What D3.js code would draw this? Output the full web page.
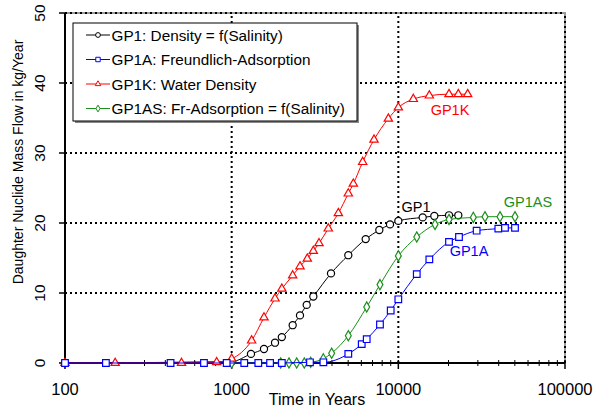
<!DOCTYPE html>
<html>
<head>
<meta charset="utf-8">
<script src="https://cdn.jsdelivr.net/npm/d3@7"></script>
<style>
  body { margin: 0; background: #fff; }
  svg { font-family: Arial, "Liberation Sans", sans-serif; }
</style>
</head>
<body>
<div id="chart"></div>
<script>
var width = 602,
    height = 408;

var margin = { top: 13, right: 37, bottom: 45, left: 65 };

// GP1: Density = f(Salinity)
var gp1Years = [100, 1000, 1306, 1563, 1820, 2000, 2323, 2570, 2820, 3090, 3945, 5010, 6370, 7690, 8913, 10000, 14000, 16440, 20140, 22900];
var gp1Flow  = [0, 0.2, 1.3, 2.0, 2.9, 3.7, 5.4, 6.8, 8.3, 9.5, 12.8, 15.4, 17.7, 19.0, 19.8, 20.3, 20.8, 21.0, 21.1, 21.1];

// GP1A: Freundlich-Adsorption
var gp1aYears = [100, 176, 430, 682, 933, 1190, 1445, 1700, 2000, 2950, 3550, 5010, 6030, 6460, 7760, 9000, 10000, 12900, 15350, 20140, 23120, 29500, 39800, 43650, 50120];
var gp1aFlow  = [0, 0, 0, 0, 0, 0, 0, 0, 0, 0.1, 0.1, 1.3, 2.7, 3.4, 5.5, 7.5, 9.1, 12.7, 14.8, 17.3, 18.0, 18.9, 19.2, 19.3, 19.3];

// GP1K: Water Density
var gp1kYears = [100, 200, 500, 813, 1000, 1318, 1563, 1820, 2000, 2323, 2570, 2843, 3090, 3342, 3800, 4365, 5010, 5370, 6110, 7145, 8710, 10000, 12300, 15350, 20140, 22900, 26060];
var gp1kFlow  = [0, 0, 0, 0.1, 0.6, 3.2, 6.5, 9.2, 10.6, 12.5, 13.8, 14.9, 16.0, 17.1, 19.2, 21.4, 24.2, 25.6, 28.7, 31.9, 34.9, 36.5, 37.7, 38.2, 38.4, 38.4, 38.4];

// GP1AS: Fr-Adsorption = f(Salinity)
var gp1asYears = [1000, 1968, 2208, 2455, 2727, 2980, 3548, 3980, 5010, 6460, 7760, 10000, 12900, 16600, 20140, 28180, 33110, 40740, 50120];
var gp1asFlow  = [0, 0, 0, 0, 0, 0.1, 0.6, 1.4, 3.9, 8.0, 11.2, 15.3, 18.0, 19.8, 20.5, 20.8, 20.9, 20.9, 20.9];

var xTicks = [100, 1000, 10000, 100000];
var yTicks = [0, 10, 20, 30, 40, 50];

var legendNames = ["GP1: Density = f(Salinity)", "GP1A: Freundlich-Adsorption", "GP1K: Water Density", "GP1AS: Fr-Adsorption = f(Salinity)"];
var curveLabels = ["GP1", "GP1A", "GP1K", "GP1AS"];

var series = [
  { years: gp1Years,   flow: gp1Flow,   color: "#000000", symbol: d3.symbolCircle,   size: 40, label: [416, 212] },
  { years: gp1aYears,  flow: gp1aFlow,  color: "#0000ff", symbol: d3.symbolSquare,   size: 44, label: [469, 256] },
  { years: gp1kYears,  flow: gp1kFlow,  color: "#ff0000", symbol: d3.symbolTriangle, size: 30, label: [450, 115] },
  { years: gp1asYears, flow: gp1asFlow, color: "#1a8f1a", symbol: d3.symbolDiamond,  size: 30, label: [528, 207] }
];
// draw order: black, green, red, blue
var drawOrder = [0, 3, 2, 1];

var x = d3.scaleLog()
  .domain([100, 100000])
  .range([margin.left, width - margin.right]);

var y = d3.scaleLinear()
  .domain([0, 50])
  .range([height - margin.bottom, margin.top]);

var svg = d3.select("#chart").append("svg")
  .attr("width", width)
  .attr("height", height);

var x0 = x.range()[0], x1 = x.range()[1],
    y0 = y.range()[0], y1 = y.range()[1];

// frame (top / right)
svg.append("path")
  .attr("d", "M" + x0 + "," + y1 + "H" + x1 + "V" + y0)
  .attr("fill", "none")
  .attr("stroke", "#999")
  .attr("stroke-width", 2);

// grid
svg.append("g").selectAll("line")
  .data(yTicks.slice(1))
  .enter().append("line")
  .attr("x1", x0).attr("x2", x1)
  .attr("y1", function(d) { return y(d); })
  .attr("y2", function(d) { return y(d); })
  .attr("stroke", "#000")
  .attr("stroke-width", 2)
  .attr("stroke-dasharray", "2,3");

svg.append("g").selectAll("line")
  .data(xTicks.slice(1))
  .enter().append("line")
  .attr("y1", y0).attr("y2", y1)
  .attr("x1", function(d) { return x(d); })
  .attr("x2", function(d) { return x(d); })
  .attr("stroke", "#000")
  .attr("stroke-width", 2)
  .attr("stroke-dasharray", "2,3");

// x axis
var minor = [];
xTicks.slice(0, -1).forEach(function(t) {
  for (var k = 2; k < 10; k++) minor.push(t * k);
});

svg.append("g").selectAll("line")
  .data(minor)
  .enter().append("line")
  .attr("x1", function(d) { return x(d); })
  .attr("x2", function(d) { return x(d); })
  .attr("y1", y0 - 3).attr("y2", y0 + 3)
  .attr("stroke", "#000");

svg.append("g").selectAll("line")
  .data(xTicks)
  .enter().append("line")
  .attr("x1", function(d) { return x(d); })
  .attr("x2", function(d) { return x(d); })
  .attr("y1", y0 - 3).attr("y2", y0 + 6)
  .attr("stroke", "#000")
  .attr("stroke-width", 1.5);

svg.append("g").selectAll("text")
  .data(xTicks)
  .enter().append("text")
  .attr("x", function(d) { return x(d); })
  .attr("y", 395)
  .attr("text-anchor", "middle")
  .attr("font-size", 16.5)
  .text(function(d) { return d; });

svg.append("text")
  .attr("x", 317)
  .attr("y", 405)
  .attr("text-anchor", "middle")
  .attr("font-size", 16)
  .text("Time in Years");

// y axis
svg.append("g").selectAll("line")
  .data(yTicks)
  .enter().append("line")
  .attr("x1", x0 - 6).attr("x2", x0 + 2)
  .attr("y1", function(d) { return y(d); })
  .attr("y2", function(d) { return y(d); })
  .attr("stroke", "#000")
  .attr("stroke-width", 1.5);

svg.append("g").selectAll("text")
  .data(yTicks)
  .enter().append("text")
  .attr("transform", function(d) { return "translate(45," + y(d) + ") rotate(-90)"; })
  .attr("text-anchor", "middle")
  .attr("font-size", 15.5)
  .text(function(d) { return d; });

svg.append("text")
  .attr("transform", "translate(23,162) rotate(-90)")
  .attr("text-anchor", "middle")
  .attr("font-size", 14)
  .text("Daughter Nuclide Mass Flow in kg/Year");

svg.append("line")
  .attr("x1", x0).attr("x2", x0).attr("y1", y1).attr("y2", y0)
  .attr("stroke", "#000").attr("stroke-width", 2);
svg.append("line")
  .attr("x1", x0).attr("x2", x1).attr("y1", y0).attr("y2", y0)
  .attr("stroke", "#000").attr("stroke-width", 2);

// curves
var line = d3.line()
  .x(function(d) { return x(d[0]); })
  .y(function(d) { return y(d[1]); })
  .curve(d3.curveMonotoneX);

drawOrder.forEach(function(i) {
  var s = series[i];
  var pts = d3.zip(s.years, s.flow);
  var g = svg.append("g");
  g.append("path")
    .datum(pts)
    .attr("d", line)
    .attr("fill", "none")
    .attr("stroke", s.color)
    .attr("stroke-width", 1);
  g.selectAll(".pt")
    .data(pts)
    .enter().append("path")
    .attr("class", "pt")
    .attr("transform", function(d) { return "translate(" + x(d[0]) + "," + y(d[1]) + ")"; })
    .attr("d", d3.symbol().type(s.symbol).size(s.size))
    .attr("fill", "#fff")
    .attr("stroke", s.color)
    .attr("stroke-width", 1.2);
});

series.forEach(function(s, i) {
  svg.append("text")
    .attr("x", s.label[0])
    .attr("y", s.label[1])
    .attr("text-anchor", "middle")
    .attr("font-size", 14.5)
    .attr("fill", s.color)
    .text(curveLabels[i]);
});

// legend
var lg = svg.append("g").attr("transform", "translate(73,23)");
lg.append("rect")
  .attr("x", 2).attr("y", 2)
  .attr("width", 284).attr("height", 98)
  .attr("fill", "#888");
lg.append("rect")
  .attr("width", 284).attr("height", 98)
  .attr("fill", "#fff")
  .attr("stroke", "#000");

var items = lg.selectAll(".item")
  .data(series)
  .enter().append("g")
  .attr("transform", function(d, i) { return "translate(0," + (12 + i * 24.5) + ")"; });

items.append("line")
  .attr("x1", 13).attr("x2", 37)
  .attr("stroke", function(d) { return d.color; });
items.append("path")
  .attr("transform", "translate(25,0)")
  .attr("d", function(d) { return d3.symbol().type(d.symbol).size(d.size * 0.45)(); })
  .attr("fill", "#fff")
  .attr("stroke", function(d) { return d.color; });
items.append("text")
  .attr("x", 38.5)
  .attr("y", 5.5)
  .attr("font-size", 15.3)
  .text(function(d, i) { return legendNames[i]; });
</script>
</body>
</html>
